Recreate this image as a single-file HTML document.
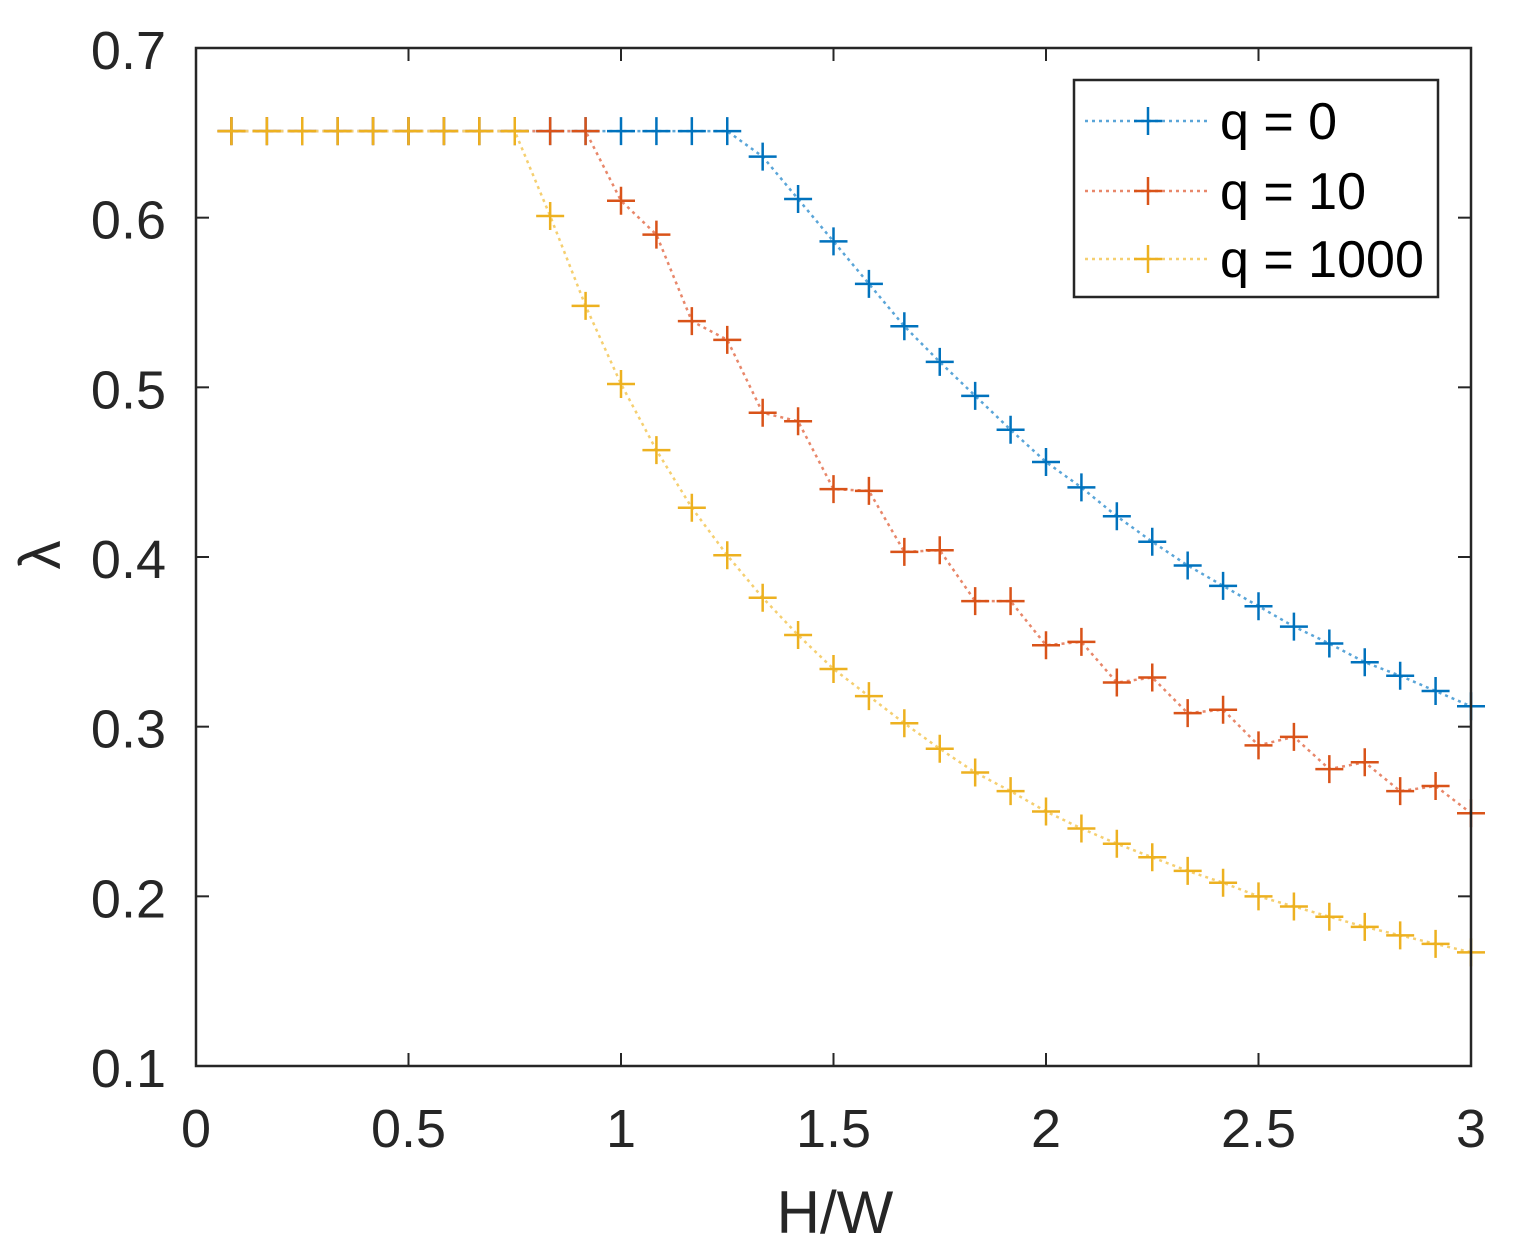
<!DOCTYPE html>
<html><head><meta charset="utf-8"><style>
body{margin:0;background:#fff;}
svg{display:block;font-family:"Liberation Sans",Arial,sans-serif;}
</style></head><body>
<svg id="chart" width="1516" height="1259" viewBox="0 0 1516 1259" xmlns="http://www.w3.org/2000/svg">
<rect x="0" y="0" width="1516" height="1259" fill="#fff"/>
<g id="series"></g>
<g id="axes"></g>
<g id="legend"></g>
</svg>
<script>
const xTicks=[0,0.5,1,1.5,2,2.5,3];
const xTickLabels=["0","0.5","1","1.5","2","2.5","3"];
const yTicks=[0.1,0.2,0.3,0.4,0.5,0.6,0.7];
const yTickLabels=["0.1","0.2","0.3","0.4","0.5","0.6","0.7"];
const xValues=[1,2,3,4,5,6,7,8,9,10,11,12,13,14,15,16,17,18,19,20,21,22,23,24,25,26,27,28,29,30,31,32,33,34,35,36].map(i=>i/12);
const q0=[0.651,0.651,0.651,0.651,0.651,0.651,0.651,0.651,0.651,0.651,0.651,0.651,0.651,0.651,0.651,0.636,0.611,0.586,0.561,0.536,0.515,0.495,0.475,0.456,0.441,0.424,0.409,0.395,0.383,0.371,0.359,0.349,0.338,0.330,0.321,0.312];
const q10=[0.651,0.651,0.651,0.651,0.651,0.651,0.651,0.651,0.651,0.651,0.651,0.610,0.590,0.539,0.528,0.485,0.480,0.440,0.439,0.403,0.404,0.374,0.374,0.348,0.350,0.326,0.329,0.308,0.310,0.289,0.294,0.275,0.279,0.262,0.265,0.249];
const q1000=[0.651,0.651,0.651,0.651,0.651,0.651,0.651,0.651,0.651,0.601,0.548,0.502,0.463,0.429,0.401,0.376,0.354,0.334,0.318,0.302,0.287,0.273,0.262,0.250,0.240,0.231,0.223,0.215,0.208,0.200,0.194,0.188,0.182,0.177,0.172,0.167];
const seriesNames=["q = 0","q = 10","q = 1000"];

const NS="http://www.w3.org/2000/svg";
const L=196,R=1471,T=48,B=1066;
const X=v=>L+(v-0)/(3-0)*(R-L);
const Y=v=>B-(v-0.1)/(0.7-0.1)*(B-T);
function mk(tag,attrs,parent){const e=document.createElementNS(NS,tag);for(const k in attrs)e.setAttribute(k,attrs[k]);parent.appendChild(e);return e;}
const axes=document.getElementById('axes'),ser=document.getElementById('series'),leg=document.getElementById('legend');

const frame=mk('rect',{x:L,y:T,width:R-L,height:B-T,fill:'none',stroke:'#262626','stroke-width':2.5},axes);


xTicks.forEach((t,i)=>{
  const x=X(t);
  mk('line',{x1:x,y1:B,x2:x,y2:B-13,stroke:'#262626','stroke-width':2},axes);
  mk('line',{x1:x,y1:T,x2:x,y2:T+13,stroke:'#262626','stroke-width':2},axes);
  const tx=mk('text',{x:x,y:1147,'text-anchor':'middle','font-size':54,fill:'#262626'},axes);
  tx.textContent=xTickLabels[i];
  
  
});
yTicks.forEach((t,i)=>{
  const y=Y(t);
  mk('line',{x1:L,y1:y,x2:L+13,y2:y,stroke:'#262626','stroke-width':2},axes);
  mk('line',{x1:R,y1:y,x2:R-13,y2:y,stroke:'#262626','stroke-width':2},axes);
  const tx=mk('text',{x:166,y:y+21,'text-anchor':'end','font-size':54,fill:'#262626'},axes);
  tx.textContent=yTickLabels[i];
  
  
});
const xt=mk('text',{x:835,y:1233,'text-anchor':'middle','font-size':60,fill:'#262626'},axes);
xt.textContent='H/W';


const yt=mk('text',{x:60,y:555,'text-anchor':'middle','font-size':58,fill:'#262626',transform:'rotate(-90 60 555)'},axes);
yt.textContent='λ';



const colors=["#0072BD","#D95319","#EDB120"];
const lineColors=["#5aa5d8","#e8876a","#f5cf70"];
const all=[q0,q10,q1000];
all.forEach((vals,s)=>{
  const g=mk('g',{},ser);
  
  
  const pts=vals.map((v,i)=>X(xValues[i])+','+Y(v)).join(' ');
  mk('polyline',{points:pts,fill:'none',stroke:lineColors[s],'stroke-width':2.5,'stroke-dasharray':'3 4'},g);
  vals.forEach((v,i)=>{
    const x=X(xValues[i]),y=Y(v);
    const m=mk('path',{d:`M${x-14},${y}H${x+14}M${x},${y-14}V${y+14}`,stroke:colors[s],'stroke-width':2.5,fill:'none'},g);
    
    
  });
});

mk('rect',{x:1074,y:80,width:364,height:217,fill:'#fff',stroke:'#262626','stroke-width':2.5},leg);
const rowsY=[121,191,259];
seriesNames.forEach((n,s)=>{
  const y=rowsY[s];
  const e=mk('g',{},leg);
  
  
  mk('line',{x1:1085,y1:y,x2:1210,y2:y,stroke:lineColors[s],'stroke-width':2.5,'stroke-dasharray':'3 4'},e);
  mk('path',{d:`M${1134},${y}H${1162}M${1148},${y-14}V${y+14}`,stroke:colors[s],'stroke-width':2.5},e);
  const t=mk('text',{x:1220,y:y+18,'font-size':52,fill:'#000'},e);
  t.textContent=n;
});
</script>
</body></html>
